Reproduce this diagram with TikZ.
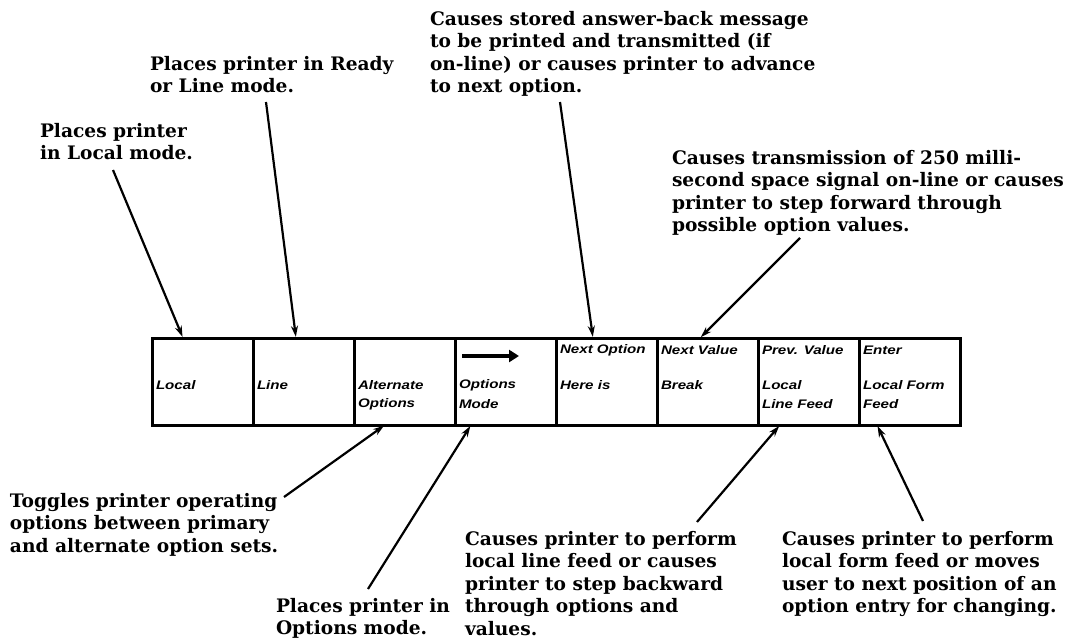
\documentclass[tikz,border=0pt]{standalone}
\usepackage{fontspec}
\setmainfont{DejaVu Serif}
\newfontfamily\keyfont[FakeStretch=1.22]{Liberation Sans}
\usetikzlibrary{arrows.meta,positioning}

\newcommand\notefont{\bfseries\fontsize{9.3}{11.25}\selectfont}

\begin{document}
\begin{tikzpicture}[
    x=0.5pt, y=-0.5pt,
    every node/.style={inner sep=0pt, outer sep=0pt},
    note/.style={anchor=north west, align=left, font=\notefont},
    key/.style={draw, line width=1.5pt, minimum width=50.5pt,
        minimum height=43.5pt, anchor=north west},
    keytext/.style={anchor=west,
        font=\keyfont\bfseries\itshape\fontsize{6.2}{7}\selectfont},
    pointer/.style={line width=1.1pt, shorten >=0.6pt,
        -{Stealth[length=5.5pt,width=3.5pt]}}
]
\useasboundingbox (0,0) rectangle (1071,642);

% the key strip
\node[key] (local) at (152,338) {};
\node[key, right=0pt of local] (line) {};
\node[key, right=0pt of line] (alt) {};
\node[key, right=0pt of alt] (optmode) {};
\node[key, right=0pt of optmode] (nextopt) {};
\node[key, right=0pt of nextopt] (nextval) {};
\node[key, right=0pt of nextval] (prevval) {};
\node[key, right=0pt of prevval] (enter) {};

% key legends
\node[keytext] at (556+4,350) {Next Option};
\node[keytext] at (657+4,350) {Next Value};
\node[keytext] at (758+4,350) {Prev. Value};
\node[keytext] at (859+4,350) {Enter};
\foreach \x/\txt in {152/Local, 253/Line, 354/Alternate, 455/Options,
    556/Here is, 657/Break, 758/Local, 859/Local Form}
  \node[keytext] at (\x+4,385) {\txt};
\foreach \x/\txt in {354/Options, 455/Mode, 758/Line Feed, 859/Feed}
  \node[keytext] at (\x+4,404) {\txt};
\draw[line width=2pt, -{Triangle[length=5pt,width=6pt]}]
  (462,356) -- (519,356);

% notes above
\node[note] (tnextopt) at (430,11) {Causes stored answer-back message\\
  to be printed and transmitted (if\\
  on-line) or causes printer to advance\\
  to next option.};
\node[note] (tline) at (150,56) {Places printer in Ready\\or Line mode.};
\node[note] (tlocal) at (40,123) {Places printer\\in Local mode.};
\node[note] (tnextval) at (672,150) {Causes transmission of 250 milli-\\
  second space signal on-line or causes\\
  printer to step forward through\\
  possible option values.};

% notes below
\node[note] (talt) at (10,493) {Toggles printer operating\\
  options between primary\\and alternate option sets.};
\node[note] (toptmode) at (276,598) {Places printer in\\Options mode.};
\node[note] (tprevval) at (465,531) {Causes printer to perform\\
  local line feed or causes\\printer to step backward\\
  through options and\\values.};
\node[note] (tenter) at (782,531) {Causes printer to perform\\
  local form feed or moves\\user to next position of an\\
  option entry for changing.};

% pointers
\coordinate (plocal) at (113,170);
\coordinate (pline) at (266,102);
\coordinate (pnextopt) at (560,102);
\coordinate (pnextval) at (800,238);
\coordinate (palt) at (284,497);
\coordinate (poptmode) at (368,589);
\coordinate (pprevval) at (697,522);
\coordinate (penter) at (923,521);

\draw[pointer] (plocal) -- ([xshift=15.5pt]local.north west);
\draw[pointer] (pline) -- ([xshift=21.5pt]line.north west);
\draw[pointer] (pnextopt) -- ([xshift=18.5pt]nextopt.north west);
\draw[pointer] (pnextval) -- ([xshift=21.5pt]nextval.north west);
\draw[pointer] (palt) -- ([xshift=15.5pt]alt.south west);
\draw[pointer] (poptmode) -- ([xshift=8pt]optmode.south west);
\draw[pointer] (pprevval) -- ([xshift=11pt]prevval.south west);
\draw[pointer] (penter) -- ([xshift=9pt]enter.south west);
\end{tikzpicture}
\end{document}
